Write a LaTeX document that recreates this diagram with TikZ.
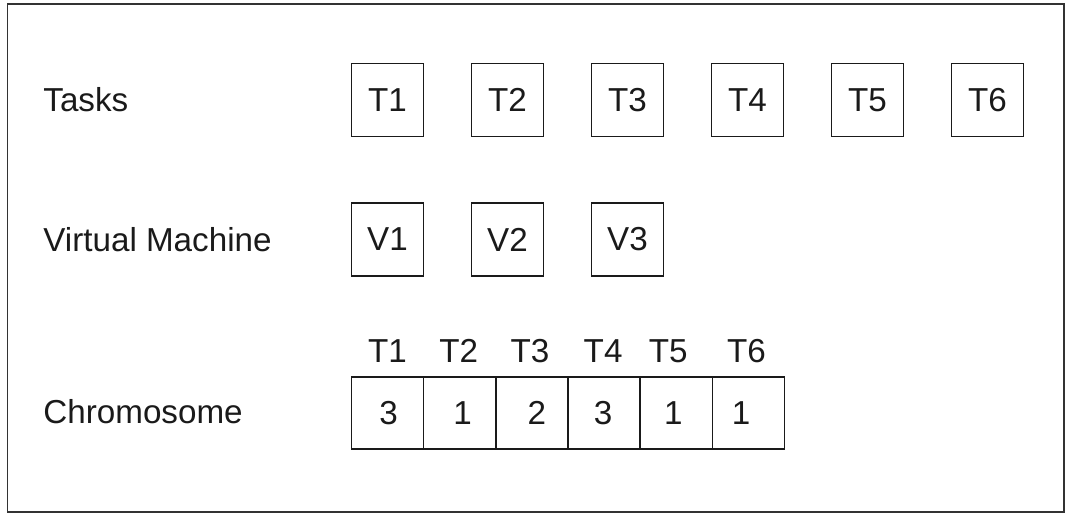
\documentclass[tikz,border=0pt]{standalone}
\usepackage{fontspec}
\setmainfont{Liberation Sans}
\usepackage{tikz}
\usetikzlibrary{positioning}
\definecolor{ink}{HTML}{1A1A1A}
\definecolor{rim}{HTML}{333333}
\tikzset{
  frame/.style={draw=rim,line width=0.9pt},
  lab/.style={anchor=west,inner sep=0pt,text=ink,font=\fontsize{16.6}{19}\selectfont},
  taskbox/.style={draw=ink,line width=0.85pt,minimum width=36pt,minimum height=36.5pt,inner sep=0pt,text=ink,font=\fontsize{16.6}{19}\selectfont},
  cell/.style={draw=ink,line width=0.85pt,minimum width=36.1pt,minimum height=36pt,inner sep=0pt},
  gene/.style={inner sep=0pt,text=ink,font=\fontsize{16.6}{19}\selectfont},
}

\begin{document}
\begin{tikzpicture}[x=0.5pt,y=-0.5pt]
\useasboundingbox (0,0) rectangle (1070,514);
\draw[frame] (7.5,4) rectangle (1064,512);

% row labels
\node[lab] (tasks) at (43,100) {Tasks};
\node[lab] (vm) at (43,240) {Virtual Machine};
\node[lab] (chrom) at (43,412) {Chromosome};

% tasks and machines
\foreach \i in {1,...,6}
  \node[taskbox] (t\i) at ({267.5+120*\i},100) {T\i};
\foreach \i in {1,2,3}
  \node[taskbox] (v\i) at ({267.5+120*\i},239.5) {V\i};

% chromosome: one cell per task, value = machine
\foreach \i/\v/\dx/\hx in {1/3/1/0,2/1/3/-1,3/2/5/-2,4/3/-1/-1,5/1/-3/-8,6/1/-7.5/-2} {
  \node[cell] (c\i) at ({387.5+72.2*(\i-1)},413) {};
  \node[gene] (g\i) at ({387.5+72.2*(\i-1)+\dx},413) {\v};
  \node[gene] (h\i) at ({387.5+72.2*(\i-1)+\hx},351) {T\i};
}
\end{tikzpicture}
\end{document}
